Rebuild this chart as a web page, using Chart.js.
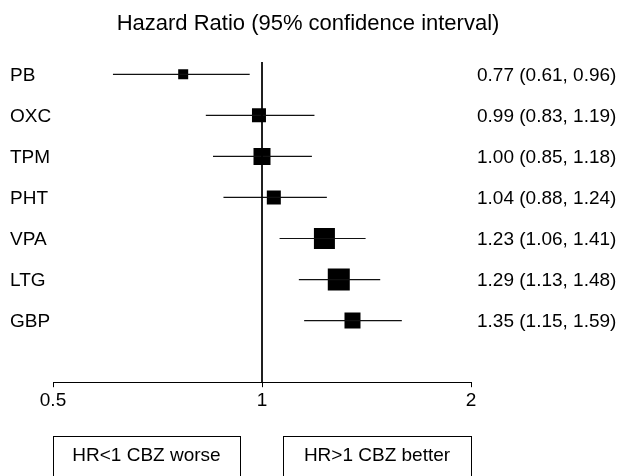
<!DOCTYPE html>
<html>
<head>
<meta charset="utf-8">
<script src="https://cdn.jsdelivr.net/npm/chart.js@4"></script>
<style>
  html, body { margin: 0; padding: 0; background: #fff; }
  #wrap { width: 621px; height: 476px; }
</style>
</head>
<body>
<div id="wrap"><canvas id="forest"></canvas></div>
<script>
// data
const drugs = ["PB", "OXC", "TPM", "PHT", "VPA", "LTG", "GBP"];
const hr = [0.77, 0.99, 1.00, 1.04, 1.23, 1.29, 1.35];
const ciLow = [0.61, 0.83, 0.85, 0.88, 1.06, 1.13, 1.15];
const ciHigh = [0.96, 1.19, 1.18, 1.24, 1.41, 1.48, 1.59];
const weight = [10, 14, 17, 14, 21, 22, 16]; // box side, px
const xTicks = [0.5, 1, 2];
const titleText = "Hazard Ratio (95% confidence interval)";
const leftBox = "HR<1 CBZ worse";
const rightBox = "HR>1 CBZ better";

const FONT = "'Liberation Sans', Arial, Helvetica, sans-serif";
const Y_MIN = 0.7, Y_MAX = 8.5;

function el(id) {
  return document.getElementById(id);
}

function ciText(i) {
  return hr[i].toFixed(2) + " (" + ciLow[i].toFixed(2) + ", " + ciHigh[i].toFixed(2) + ")";
}

const datasets = [];

// reference line at HR = 1
datasets.push({
  type: "line",
  data: [{ x: 1, y: Y_MIN }, { x: 1, y: Y_MAX }],
  borderColor: "#000",
  borderWidth: 1,
  pointRadius: 0,
  clip: false
});

// confidence interval whiskers
drugs.forEach((d, i) => {
  datasets.push({
    type: "line",
    data: [{ x: ciLow[i], y: i + 1 }, { x: ciHigh[i], y: i + 1 }],
    borderColor: "#111",
    borderWidth: 1.2,
    pointRadius: 0
  });
});

// point estimates
datasets.push({
  type: "scatter",
  data: hr.map((v, i) => ({ x: v, y: i + 1 })),
  pointStyle: "rect",
  pointRadius: weight.map(w => w / (2 * Math.SQRT1_2)),
  pointHoverRadius: weight.map(w => w / (2 * Math.SQRT1_2)),
  backgroundColor: "#000",
  borderWidth: 0
});

const textPlugin = {
  id: "forestText",
  afterDraw(chart) {
    const ctx = chart.ctx;
    const x = chart.scales.x;
    const y = chart.scales.y;
    const area = chart.chartArea;
    ctx.save();
    ctx.fillStyle = "#000";

    ctx.font = "22px " + FONT;
    ctx.textAlign = "center";
    ctx.textBaseline = "alphabetic";
    ctx.fillText(titleText, 308, 30);

    ctx.font = "19px " + FONT;
    ctx.textBaseline = "middle";
    drugs.forEach((d, i) => {
      const py = y.getPixelForValue(i + 1);
      ctx.textAlign = "left";
      ctx.fillText(d, 10, py + 1);
      ctx.fillText(ciText(i), 477, py + 1);
    });

    // direction boxes under the axis
    const one = x.getPixelForValue(1);
    const boxes = [
      [area.left, one - 22, leftBox],
      [one + 21, area.right, rightBox]
    ];
    ctx.strokeStyle = "#000";
    ctx.lineWidth = 1;
    boxes.forEach(([l, r, t]) => {
      ctx.strokeRect(Math.round(l) + 0.5, 436.5, Math.round(r - l), 60);
      ctx.textAlign = "center";
      ctx.fillText(t, (l + r) / 2, 456);
    });
    ctx.restore();
  }
};

new Chart(el("forest"), {
  data: { datasets },
  options: {
    responsive: true,
    maintainAspectRatio: false,
    animation: false,
    events: [],
    layout: { padding: { left: 53, right: 150, top: 62, bottom: 62 } },
    plugins: { legend: { display: false }, tooltip: { enabled: false } },
    scales: {
      x: {
        type: "logarithmic",
        min: 0.5,
        max: 2,
        afterBuildTicks: s => { s.ticks = xTicks.map(v => ({ value: v })); },
        ticks: {
          autoSkip: false,
          maxRotation: 0,
          color: "#000",
          padding: 2,
          font: { family: FONT, size: 19 },
          callback: v => String(v)
        },
        grid: { drawOnChartArea: false, drawTicks: true, tickLength: 5, color: "#000", tickColor: "#000" },
        border: { display: true, color: "#000", width: 1 }
      },
      y: {
        type: "linear",
        reverse: true,
        min: Y_MIN,
        max: Y_MAX,
        display: false
      }
    }
  },
  plugins: [textPlugin]
});
</script>
</body>
</html>
